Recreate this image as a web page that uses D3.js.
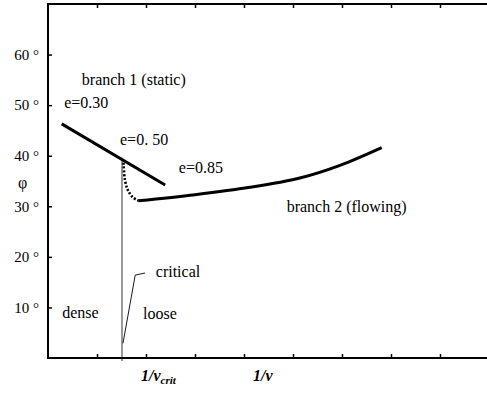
<!DOCTYPE html>
<html><head><meta charset="utf-8">
<script src="https://cdn.jsdelivr.net/npm/d3@7"></script>
<style>
body{margin:0;background:#fff;}
</style></head>
<body><svg id="c" width="487" height="393"></svg>
<script>
// ---- data ----
const yTicks = [10, 20, 30, 40, 50, 60];
const xTicks = [1, 2, 3, 4, 5, 6, 7, 8];
const xCrit = 1.51;
const branch1 = [[0.28, 46.3], [2.39, 34.2]];
const branch2 = [[1.84, 31.1], [3.0, 32.3], [4.12, 33.75], [5.14, 35.6], [5.96, 38.1], [6.81, 41.6]];
const transition = [[1.54, 38.6], [1.57, 35.2], [1.63, 33.2], [1.73, 31.8], [1.84, 31.1]];
const critTop = 39.6;
const labels = [
  {t: "branch 1 (static)", x: 0.69, y: 53.9},
  {t: "e=0.30", x: 0.33, y: 49.4},
  {t: "e=0. 50", x: 1.47, y: 42.1},
  {t: "e=0.85", x: 2.67, y: 36.6},
  {t: "branch 2 (flowing)", x: 4.87, y: 28.9},
  {t: "dense", x: 0.29, y: 7.9},
  {t: "loose", x: 1.94, y: 7.7},
  {t: "critical", x: 2.2, y: 16.0}
];

// ---- scales ----
const x = d3.scaleLinear().domain([0, 9]).range([48, 489]);
const y = d3.scaleLinear().domain([0, 70]).range([358, 4]);
const svg = d3.select("#c");
const FONT = '"Liberation Serif", "Times New Roman", serif';

// frame
svg.append("rect").attr("x", x(0)).attr("y", y(70)).attr("width", x(9) - x(0)).attr("height", y(0) - y(70))
  .attr("fill", "none").attr("stroke", "#000").attr("stroke-width", 2);

// axes
const yAxis = d3.axisLeft(y).tickValues(yTicks).tickSizeInner(-4).tickSizeOuter(0).tickPadding(9)
  .tickFormat(d => d + " °");
const gy = svg.append("g").attr("transform", `translate(${x(0)},0)`).call(yAxis);
gy.select(".domain").remove();
gy.selectAll("text").style("font-family", FONT).style("font-size", "15px").attr("fill", "#000");
gy.selectAll("line").attr("stroke-width", 1.5);

const xAxis = d3.axisBottom(x).tickValues(xTicks).tickSizeInner(-4).tickSizeOuter(0).tickFormat("");
const gx = svg.append("g").attr("transform", `translate(0,${y(0)})`).call(xAxis);
gx.select(".domain").remove();
gx.selectAll("line").attr("stroke-width", 1.5);

const xTop = d3.axisTop(x).tickValues(xTicks).tickSizeInner(-4).tickSizeOuter(0).tickFormat("");
const gt = svg.append("g").attr("transform", `translate(0,${y(70)})`).call(xTop);
gt.select(".domain").remove();
gt.selectAll("line").attr("stroke-width", 1.5);

// critical vertical line
svg.append("line").attr("x1", x(xCrit)).attr("x2", x(xCrit)).attr("y1", y(critTop)).attr("y2", y(0) + 3)
  .attr("stroke", "#000").attr("stroke-width", 0.8);

const line = d3.line().x(d => x(d[0])).y(d => y(d[1]));
const smooth = d3.line().x(d => x(d[0])).y(d => y(d[1])).curve(d3.curveCatmullRom);

svg.append("path").datum(branch1).attr("d", line).attr("fill", "none").attr("stroke", "#000").attr("stroke-width", 3);
svg.append("path").datum(branch2).attr("d", smooth)
  .attr("fill", "none").attr("stroke", "#000").attr("stroke-width", 3);
svg.append("path").datum(transition).attr("d", smooth)
  .attr("fill", "none").attr("stroke", "#000").attr("stroke-width", 2.6).attr("stroke-dasharray", "2,1.8");

// critical callout
svg.append("path").datum([[xCrit + 0.02, 2.9], [1.78, 16.4], [1.98, 16.8]])
  .attr("d", line).attr("fill", "none").attr("stroke", "#000").attr("stroke-width", 0.9);

// labels
svg.selectAll("text.lab").data(labels).join("text").attr("class", "lab")
  .attr("x", d => x(d.x)).attr("y", d => y(d.y))
  .style("font-family", FONT).style("font-size", "16px").text(d => d.t);

// phi
svg.append("text").attr("x", 18).attr("y", 188).style("font-family", FONT).style("font-size", "16px").text("φ");

// x axis labels
const t1 = svg.append("text").attr("x", 141).attr("y", 381).style("font-family", FONT).style("font-size", "16px")
  .style("font-style", "italic").style("font-weight", "bold");
t1.append("tspan").text("1/ν");
t1.append("tspan").style("font-size", "11px").attr("dy", 3).text("crit");
svg.append("text").attr("x", 253).attr("y", 381).style("font-family", FONT).style("font-size", "16px")
  .style("font-style", "italic").style("font-weight", "bold").text("1/ν");
</script></body></html>
